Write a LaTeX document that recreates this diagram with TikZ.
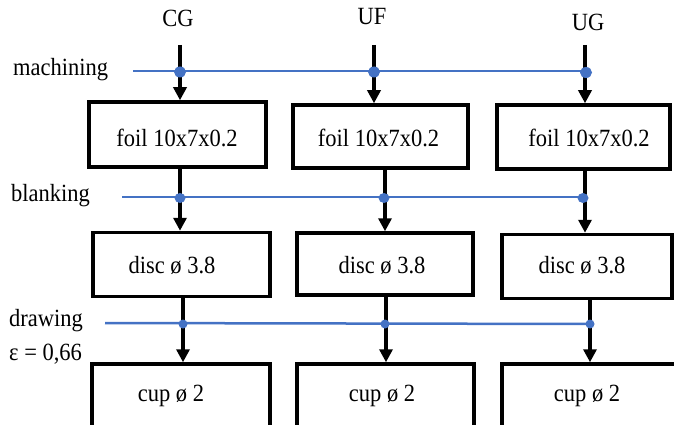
\documentclass[tikz,border=0pt]{standalone}
\usepackage{fontspec}
\usepackage{graphicx}
\setmainfont{Liberation Serif}
\usetikzlibrary{arrows.meta}
\definecolor{lineblue}{HTML}{4472C4}
\newcommand{\tallt}[1]{\scalebox{1}[1.1]{#1}}
\tikzset{
  box/.style={draw=black, line width=3.5pt, rectangle, inner sep=0pt},
  lbl/.style={inner sep=0pt, font=\fontsize{22.5}{26}\selectfont},
  flow/.style={line width=3.5pt, -{Triangle[width=13pt,length=13pt]}},
  proc/.style={draw=lineblue, line width=2.5pt},
  dot/.style={fill=lineblue, draw=none}
}
\begin{document}
\begin{tikzpicture}[x=1pt,y=-1pt]
\clip (0,0) rectangle (674,425);
\useasboundingbox (0,0) rectangle (674,425);
% column labels
\node[lbl] (cg) at (178,18) {\tallt{CG}};
\node[lbl] (uf) at (372,17) {\tallt{UF}};
\node[lbl] (ug) at (588,22) {\tallt{UG}};
% process labels
\node[lbl, anchor=west] (mach) at (13,70) {\tallt{machining}};
\node[lbl, anchor=west] (blank) at (11,196) {\tallt{blanking}};
\node[lbl, anchor=west] (draw) at (9,321) {\tallt{drawing}};
\node[lbl, anchor=west] (eps) at (9,354) {\tallt{ε = 0,66}};
% boxes row 1
\node[box, minimum width=177pt, minimum height=65pt] (f1) at (177.5,134.5) {};
\node[box, minimum width=175pt, minimum height=63pt] (f2) at (380.5,136.5) {};
\node[box, minimum width=173pt, minimum height=64pt] (f3) at (583.5,137) {};
% boxes row 2
\node[box, minimum width=177pt, minimum height=64pt] (d1) at (181.5,264.5) {};
\node[box, minimum width=176pt, minimum height=62pt] (d2) at (385,264) {};
\node[box, minimum width=170pt, minimum height=64pt] (d3) at (587,266.5) {};
% boxes row 3
\node[box, minimum width=178pt, minimum height=70pt] (c1) at (181,399) {};
\node[box, minimum width=177pt, minimum height=70pt] (c2) at (385.5,399) {};
\node[box, minimum width=174pt, minimum height=70pt] (c3) at (589,399) {};
% box texts
\node[lbl] (f1t) at (177,138) {\tallt{foil 10x7x0.2}};
\node[lbl] (f2t) at (378.5,138) {\tallt{foil 10x7x0.2}};
\node[lbl] (f3t) at (589,138) {\tallt{foil 10x7x0.2}};
\node[lbl] (d1t) at (172,265) {\tallt{disc ø 3.8}};
\node[lbl] (d2t) at (382,265) {\tallt{disc ø 3.8}};
\node[lbl] (d3t) at (582,265) {\tallt{disc ø 3.8}};
\node[lbl] (c1t) at (171,396) {\tallt{cup ø 2}};
\node[lbl] (c2t) at (382,396) {\tallt{cup ø 2}};
\node[lbl] (c3t) at (587,396) {\tallt{cup ø 2}};
% top starting points
\coordinate (t1) at (180,45);
\coordinate (t2) at (374,45);
\coordinate (t3) at (585,45);
% arrows
\draw[flow] (t1) -- (t1 |- f1.north);
\draw[flow] (t2) -- (t2 |- f2.north);
\draw[flow] (t3) -- (t3 |- f3.north);
\coordinate (a1) at (180,0);
\coordinate (a2) at (385,0);
\coordinate (a3) at (585,0);
\draw[flow] (a1 |- f1.south) -- (a1 |- d1.north);
\draw[flow] (a2 |- f2.south) -- (a2 |- d2.north);
\draw[flow] (a3 |- f3.south) -- (a3 |- d3.north);
\coordinate (b1) at (183,0);
\coordinate (b2) at (386,0);
\coordinate (b3) at (590,0);
\draw[flow] (b1 |- d1.south) -- (b1 |- c1.north);
\draw[flow] (b2 |- d2.south) -- (b2 |- c2.north);
\draw[flow] (b3 |- d3.south) -- (b3 |- c3.north);
% process lines
\coordinate (m0) at (133,71);
\coordinate (m1) at (180,72);
\coordinate (m2) at (374,72);
\coordinate (m3) at (586,72.5);
\draw[proc] (m0) -- (586,71);
\coordinate (k0) at (122,197);
\coordinate (k1) at (180,198);
\coordinate (k2) at (384,198);
\coordinate (k3) at (583,198);
\draw[proc] (k0) -- (583,197);
\coordinate (r0) at (105,323);
\coordinate (r1) at (183,324);
\coordinate (r2) at (385,324);
\coordinate (r3) at (590,324);
\draw[proc] (r0) -- (r3);
% dots
\foreach \p in {m1,m2,m3} \fill[dot] (\p) ellipse (6pt and 5.5pt);
\foreach \p in {k1,k2,k3} \fill[dot] (\p) ellipse (5.5pt and 5pt);
\foreach \p in {r1,r2,r3} \fill[dot] (\p) ellipse (4.5pt and 4.5pt);
\end{tikzpicture}
\end{document}
